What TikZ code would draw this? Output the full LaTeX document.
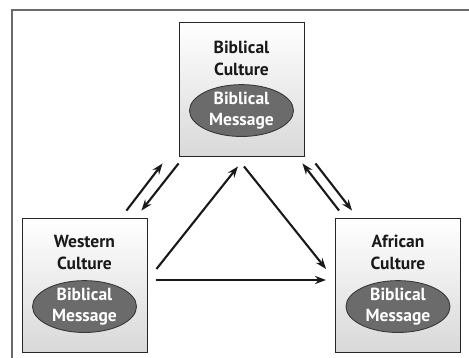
\documentclass[tikz,border=0pt]{standalone}
\usepackage{fontspec}
\setmainfont{PT Sans}
\usetikzlibrary{arrows.meta,shapes.geometric}
\definecolor{framegray}{HTML}{6A6A6A}
\definecolor{msgfill}{HTML}{6B6B6B}
\definecolor{msgline}{HTML}{383838}
\begin{document}
\begin{tikzpicture}[x=1pt,y=-1pt,
  culture/.style={draw=black!85, line width=0.9pt, minimum width=125pt, minimum height=134pt,
    top color=white, bottom color=black!15, inner sep=0pt},
  msg/.style={ellipse, draw=msgline, line width=0.9pt, fill=msgfill, minimum width=104pt,
    minimum height=50pt, text=white, font=\bfseries\fontsize{17.5}{20.5}\selectfont, align=center, inner sep=0pt},
  ttl/.style={font=\bfseries\fontsize{17.5}{21.5}\selectfont, align=center, text=black!90},
  arr/.style={line width=2.1pt, draw=black!90, -{Stealth[length=11pt,width=8pt]}}]
\useasboundingbox (0,0) rectangle (469,358);
\draw[framegray, line width=2pt] (11.5,358) -- (11.5,10.5) -- (469,10.5);

\node[culture] (top) at (241.5,89) {};
\node[culture] (west) at (84.5,285) {};
\node[culture] (africa) at (398,285) {};

\node[ttl] (ttop) at ([yshift=-37pt]top.north) {Biblical\\Culture};
\node[msg] (mtop) at ([yshift=-89pt]top.north) {Biblical\\Message};
\node[ttl] (twest) at ([yshift=-35pt]west.north) {Western\\Culture};
\node[msg] (mwest) at ([yshift=-89pt]west.north) {Biblical\\Message};
\node[ttl] (tafrica) at ([yshift=-35pt]africa.north) {African\\Culture};
\node[msg] (mafrica) at ([yshift=-89pt]africa.north) {Biblical\\Message};

% left pair
\draw[arr] ([xshift=-21pt,yshift=7pt]west.north east) -- ([xshift=-16pt,yshift=-7pt]top.south west);
\draw[arr] ([yshift=-7pt]top.south west) -- ([xshift=-6pt,yshift=7pt]west.north east);
% right pair
\draw[arr] ([xshift=4pt,yshift=7pt]africa.north west) -- ([xshift=-2pt,yshift=-7pt]top.south east);
\draw[arr] ([xshift=11pt,yshift=-7pt]top.south east) -- ([xshift=17pt,yshift=7pt]africa.north west);
% triangle
\draw[arr] ([xshift=9pt,yshift=16pt]west.east) -- ([xshift=-3.5pt,yshift=-10pt]top.south);
\draw[arr] ([xshift=2.5pt,yshift=-10pt]top.south) -- ([xshift=-9pt,yshift=16pt]africa.west);
\draw[arr] ([xshift=9pt,yshift=5pt]west.east) -- ([xshift=-9pt,yshift=5pt]africa.west);
\end{tikzpicture}
\end{document}
